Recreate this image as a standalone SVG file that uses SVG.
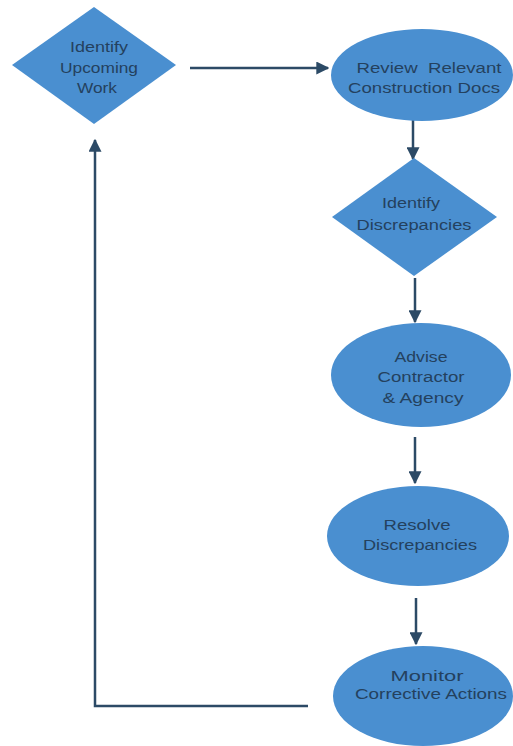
<svg xmlns="http://www.w3.org/2000/svg" width="513" height="746" viewBox="0 0 513 746">
<defs>
<style>
.shape{fill:#4a8fd0;stroke:none}
.lbl{font-family:"Liberation Sans",Arial,sans-serif;font-size:15.5px;fill:#24415e;text-anchor:middle}
.sm{font-size:14.5px}
.conn{stroke:#2c4a66;stroke-width:2.5;fill:none}
</style>
<marker id="ah" viewBox="0 0 10 10" refX="9" refY="5" markerWidth="5.2" markerHeight="5.2" orient="auto" markerUnits="strokeWidth">
<path d="M0,0 L10,5 L0,10 z" fill="#2c4a66"/>
</marker>
</defs>
<rect width="513" height="746" fill="#ffffff"/>
<g id="connectors">
<line class="conn" x1="190" y1="68" x2="328" y2="68" marker-end="url(#ah)"/>
<line class="conn" x1="413" y1="117" x2="413" y2="159" marker-end="url(#ah)"/>
<line class="conn" x1="415" y1="278" x2="415" y2="322" marker-end="url(#ah)"/>
<line class="conn" x1="415" y1="437" x2="415" y2="483" marker-end="url(#ah)"/>
<line class="conn" x1="416" y1="598" x2="416" y2="644" marker-end="url(#ah)"/>
<polyline class="conn" points="308,706 95,706 95,140" marker-end="url(#ah)"/>
</g>
<g id="identify-upcoming">
<polygon class="shape" points="94,7 176,65 94,124 12,65"/>
<text class="lbl" x="99" y="52" textLength="58" lengthAdjust="spacingAndGlyphs">Identify</text>
<text class="lbl" x="99" y="73" textLength="78" lengthAdjust="spacingAndGlyphs">Upcoming</text>
<text class="lbl" x="97" y="93" textLength="40" lengthAdjust="spacingAndGlyphs">Work</text>
</g>
<g id="review-docs">
<ellipse class="shape" cx="422" cy="75" rx="91" ry="46"/>
<text class="lbl" x="429" y="73" textLength="145" lengthAdjust="spacingAndGlyphs" style="white-space:pre">Review  Relevant</text>
<text class="lbl" x="424" y="93" textLength="152" lengthAdjust="spacingAndGlyphs">Construction Docs</text>
</g>
<g id="identify-discrepancies">
<polygon class="shape" points="414,158 497,217 414,276 332,217"/>
<text class="lbl" x="411" y="208" textLength="58" lengthAdjust="spacingAndGlyphs">Identify</text>
<text class="lbl" x="414" y="230" textLength="115" lengthAdjust="spacingAndGlyphs">Discrepancies</text>
</g>
<g id="advise">
<ellipse class="shape" cx="421" cy="375" rx="90" ry="52"/>
<text class="lbl" x="421" y="362" textLength="53" lengthAdjust="spacingAndGlyphs">Advise</text>
<text class="lbl" x="421" y="382" textLength="87" lengthAdjust="spacingAndGlyphs">Contractor</text>
<text class="lbl" x="423" y="403" textLength="81" lengthAdjust="spacingAndGlyphs">&amp; Agency</text>
</g>
<g id="resolve">
<ellipse class="shape" cx="418" cy="536" rx="91" ry="50"/>
<text class="lbl" x="417" y="530" textLength="67" lengthAdjust="spacingAndGlyphs">Resolve</text>
<text class="lbl" x="420" y="550" textLength="114" lengthAdjust="spacingAndGlyphs">Discrepancies</text>
</g>
<g id="monitor">
<ellipse class="shape" cx="423" cy="696" rx="90" ry="50"/>
<text class="lbl sm" x="427" y="681" textLength="73" lengthAdjust="spacingAndGlyphs">Monitor</text>
<text class="lbl sm" x="431" y="699" textLength="152" lengthAdjust="spacingAndGlyphs">Corrective Actions</text>
</g>
</svg>
